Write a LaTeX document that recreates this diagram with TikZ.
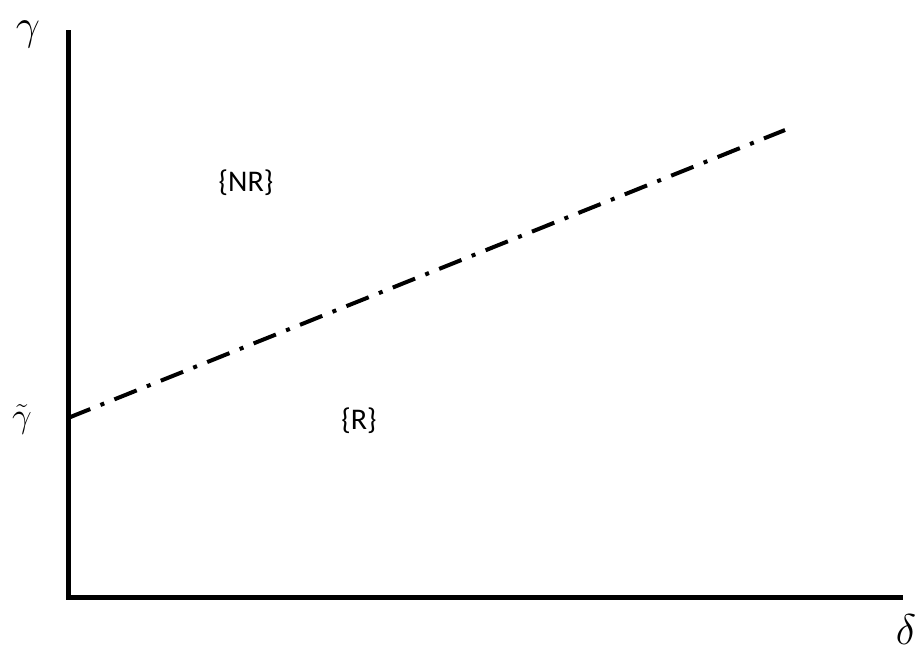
\documentclass[tikz,border=0pt]{standalone}
\usepackage{fix-cm}
\usepackage{fontspec}
\setmainfont{Carlito}
\begin{document}
\begin{tikzpicture}[x=1pt,y=-1pt,
  axis/.style={line width=5pt},
  boundary/.style={line width=4pt, dash pattern=on 24pt off 11pt on 4pt off 11pt},
  region/.style={font=\fontsize{30}{34}\selectfont},
  symb/.style={font=\fontsize{43}{48}\selectfont}]
\useasboundingbox (0,0) rectangle (922,659);
\coordinate (top) at (68,30);
\coordinate (origin) at (68,597);
\coordinate (right) at (903,597);
\coordinate (start) at (68,418);
\coordinate (end) at (785,130);
\draw[axis] (top) -- (origin) -- (right);
\draw[boundary] (start) -- (end);
\node[symb] (gam) at (28,34) {$\gamma$};
\node[symb] (del) at (906,630) {$\delta$};
\node[font=\fontsize{35}{40}\selectfont] (gt) at (22,419) {$\tilde{\gamma}$};
\node[region] (nr) at (246,183) {\{NR\}};
\node[region] (r) at (359,421) {\{R\}};
\end{tikzpicture}
\end{document}
